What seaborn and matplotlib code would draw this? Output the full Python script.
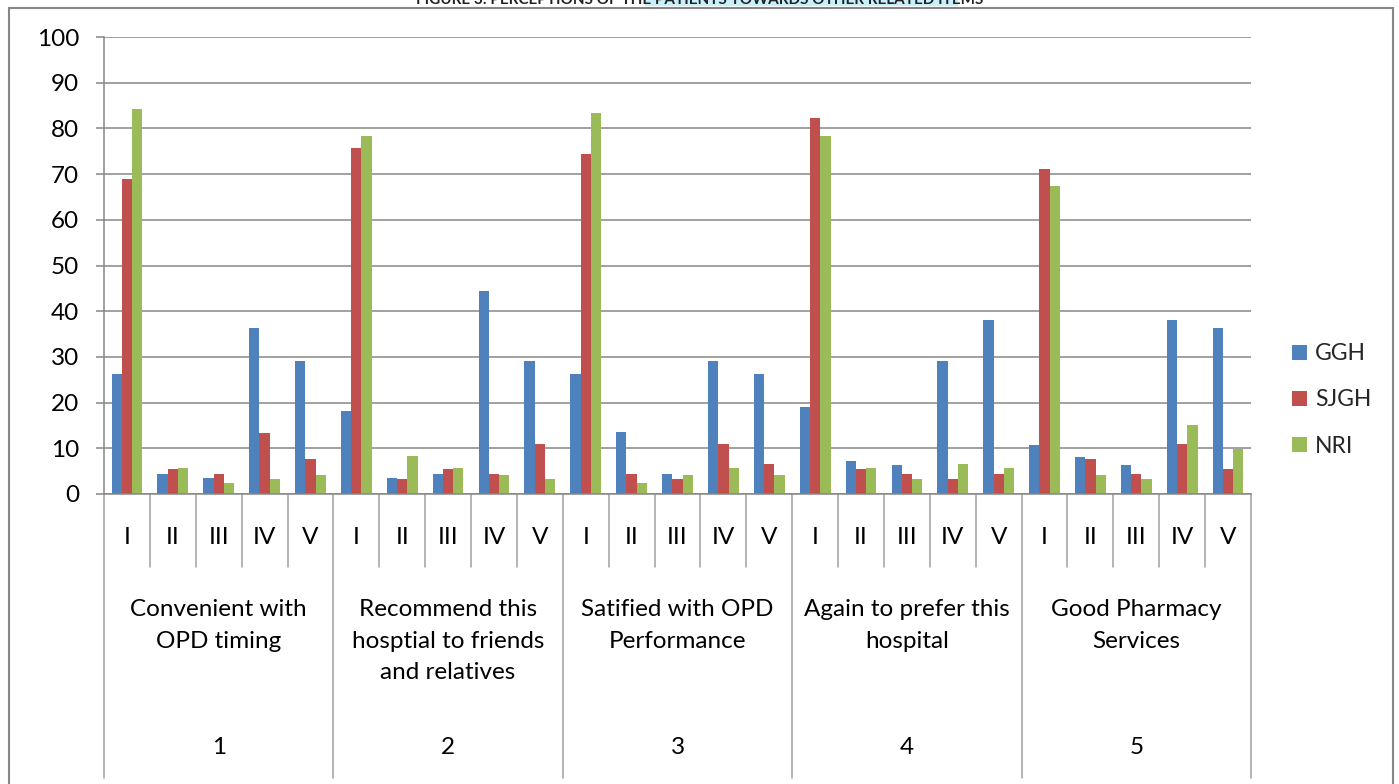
import matplotlib
matplotlib.use("Agg")
import matplotlib.pyplot as plt
import matplotlib.transforms as mtransforms
from matplotlib.patches import Rectangle
from matplotlib.lines import Line2D
import pandas as pd
import seaborn as sns

# Survey items (outer axis level) and response levels (inner axis level)
items = [
    "Convenient with\nOPD timing",
    "Recommend this\nhosptial to friends\nand relatives",
    "Satified with OPD\nPerformance",
    "Again to prefer this\nhospital",
    "Good Pharmacy\nServices",
]
item_numbers = ["1", "2", "3", "4", "5"]
levels = ["I", "II", "III", "IV", "V"]
hospitals = ["GGH", "SJGH", "NRI"]

# Percentage of respondents, item by item, levels I..V
ggh = [26.3, 4.4, 3.5, 36.3, 29.1,
       18.2, 3.5, 4.4, 44.4, 29.1,
       26.3, 13.5, 4.4, 29.1, 26.3,
       19.0, 7.2, 6.3, 29.1, 38.1,
       10.7, 8.0, 6.3, 38.1, 36.3]
sjgh = [68.9, 5.5, 4.4, 13.3, 7.7,
        75.7, 3.3, 5.5, 4.4, 10.9,
        74.4, 4.4, 3.3, 10.9, 6.6,
        82.3, 5.5, 4.4, 3.3, 4.4,
        71.1, 7.7, 4.4, 10.9, 5.5]
nri = [84.2, 5.7, 2.4, 3.3, 4.2,
       78.3, 8.3, 5.7, 4.2, 3.3,
       83.4, 2.4, 4.2, 5.7, 4.2,
       78.3, 5.7, 3.3, 6.6, 5.7,
       67.4, 4.2, 3.3, 15.1, 9.8]
y_ticks = [0, 10, 20, 30, 40, 50, 60, 70, 80, 90, 100]

title = "FIGURE 3: PERCEPTIONS OF THE PATIENTS TOWARDS OTHER RELATED ITEMS"
colors = ["#4F81BD", "#C0504D", "#9BBB59"]
grid_gray = "#868686"
sep_gray = "#A0A0A0"

sns.set_theme(style="white")
plt.rcParams["font.family"] = ["Lato", "DejaVu Sans"]
FS = 17.5
LEG_FS = 16.5

slots = [f"{g}-{lv}" for g in range(len(items)) for lv in levels]
rows = []
for h, vals in zip(hospitals, [ggh, sjgh, nri]):
    for slot, v in zip(slots, vals):
        rows.append({"slot": slot, "hospital": h, "pct": v})
df = pd.DataFrame(rows)

W, H = 1399, 784
fig = plt.figure(figsize=(W / 100, H / 100), dpi=100)
fig.patch.set_facecolor("white")

def fx(px):
    return px / W

def fy(py):
    return 1 - py / H

ax = fig.add_axes([fx(104), fy(494), fx(1251) - fx(104), fy(37) - fy(494)])
sns.barplot(data=df, x="slot", y="pct", hue="hospital", order=slots,
            hue_order=hospitals, palette=colors, saturation=1, width=0.67,
            linewidth=0, ax=ax)

ax.set_ylim(0, 100)
ax.set_xlim(-0.5, len(slots) - 0.5)
ax.set_yticks(y_ticks)
ax.set_xlabel("")
ax.set_ylabel("")
ax.yaxis.grid(True, color=grid_gray, lw=1.1)
ax.set_axisbelow(True)
ax.tick_params(axis="y", length=6, width=1.1, color=grid_gray, pad=12,
               labelsize=FS, labelcolor="black", left=True)
ax.tick_params(axis="x", length=0, labelbottom=False)
for side in ["top", "right"]:
    ax.spines[side].set_visible(False)
for side in ["left", "bottom"]:
    ax.spines[side].set_color(grid_gray)
    ax.spines[side].set_linewidth(1.1)

# Two-level category axis below the plot
blend = mtransforms.blended_transform_factory(ax.transData, fig.transFigure)
for k in range(len(slots)):
    ax.text(k, fy(537), levels[k % len(levels)], transform=blend,
            ha="center", va="center", fontsize=FS, color="black", clip_on=False)
n = len(levels)
for g, (label, num) in enumerate(zip(items, item_numbers)):
    xc = g * n + (n - 1) / 2
    ax.text(xc, fy(599), label, transform=blend, ha="center", va="top",
            fontsize=FS, linespacing=1.63, color="black", clip_on=False)
    ax.text(xc, fy(748), num, transform=blend, ha="center", va="center",
            fontsize=FS, color="black", clip_on=False)
for k in range(len(slots) + 1):
    x = k - 0.5
    y_end = fy(778) if k % n == 0 else fy(567)
    ax.add_line(Line2D([x, x], [fy(494), y_end], transform=blend,
                       color=sep_gray, lw=1.1, clip_on=False))

# Legend on the right
sns.move_legend(ax, "center left", bbox_to_anchor=(fx(1292), fy(400)),
                bbox_transform=fig.transFigure, frameon=False, title=None,
                fontsize=LEG_FS, handlelength=0.65, handleheight=0.65,
                handletextpad=0.35, labelspacing=1.1, borderpad=0,
                borderaxespad=0)

# Chart frame and caption strip at the top edge
fig.add_artist(Rectangle((fx(645), fy(6)), fx(958) - fx(645), fy(0) - fy(6),
                         transform=fig.transFigure, facecolor="#C8F0FA",
                         edgecolor="none"))
fig.text(0.5, fy(4), title, ha="center", va="baseline", fontsize=11,
         fontweight="bold", color="#222222")
fig.add_artist(Rectangle((fx(9), -0.05), fx(1393) - fx(9), fy(8) + 0.05,
                         transform=fig.transFigure, fill=False,
                         edgecolor=grid_gray, lw=1.5))

fig.savefig("out.png", dpi=100, facecolor="white")
